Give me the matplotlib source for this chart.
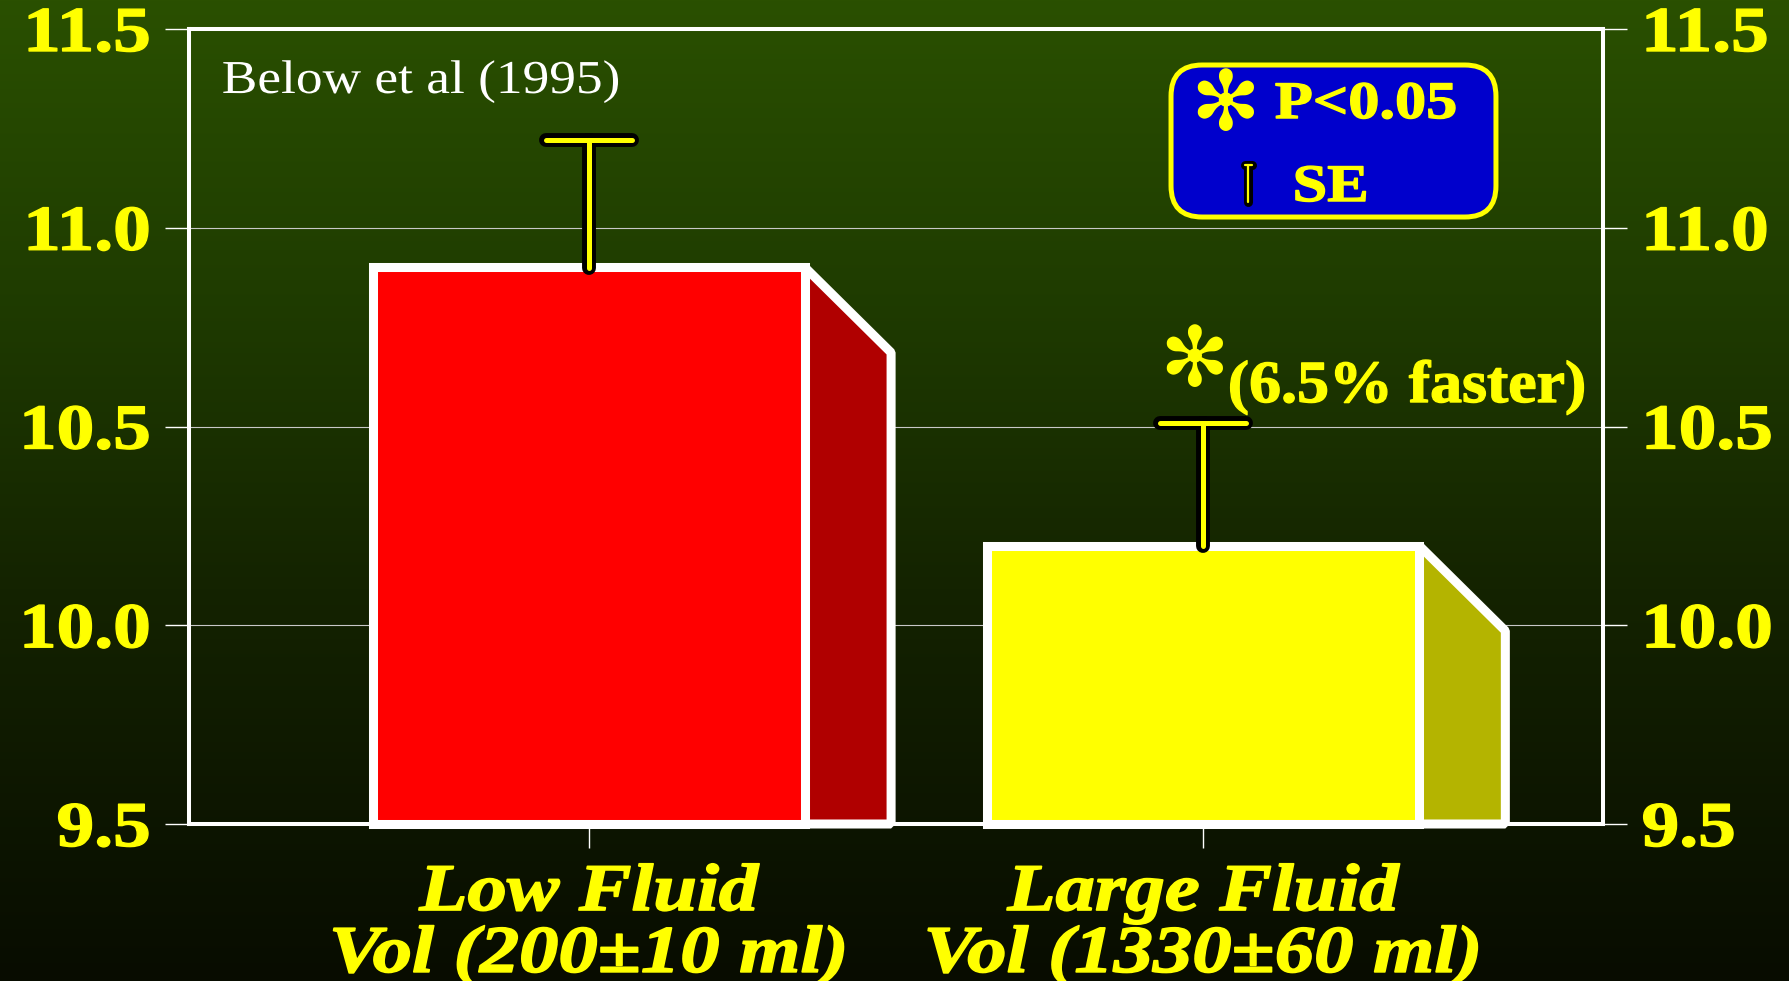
import numpy as np
import matplotlib
matplotlib.use("Agg")
import matplotlib.pyplot as plt
from matplotlib import patheffects
from matplotlib.patches import Polygon, FancyBboxPatch
from matplotlib.transforms import Affine2D, blended_transform_factory

# ---- data ----
groups = ["Low Fluid\nVol (200\u00b110 ml)", "Large Fluid\nVol (1330\u00b160 ml)"]
times = [10.9, 10.2]
se = [0.32, 0.31]
face_colors = ["#ff0000", "#ffff00"]
side_colors = ["#b00000", "#b4b400"]
yticks = [9.5, 10.0, 10.5, 11.0, 11.5]
ytick_labels = ["9.5", "10.0", "10.5", "11.0", "11.5"]
source_note = "Below et al (1995)"
sig_note = "(6.5% faster)"
legend_p = "P<0.05"
legend_se = "SE"
star = "\u273b"

YEL = "#ffff00"
SX = 1.18  # horizontal stretch of the lettering


class HStretch(patheffects.AbstractPathEffect):
    """Draw text widened horizontally about one of its edges or its centre,
    optionally thickened by a thin outline in the fill colour."""

    def __init__(self, sx=SX, anchor="center", lw=0.0):
        super().__init__()
        self.sx = sx
        self.anchor = anchor
        self.lw = lw

    def draw_path(self, renderer, gc, tpath, affine, rgbFace=None):
        ext = tpath.get_extents(affine)
        cx = {"left": ext.x0, "center": 0.5 * (ext.x0 + ext.x1), "right": ext.x1}[self.anchor]
        t = affine + Affine2D().translate(-cx, 0).scale(self.sx, 1.0).translate(cx, 0)
        if self.lw > 0 and rgbFace is not None:
            gc0 = renderer.new_gc()
            gc0.copy_properties(gc)
            gc0.set_linewidth(self.lw)
            gc0.set_foreground(rgbFace)
            gc0.set_joinstyle("round")
            renderer.draw_path(gc0, tpath, t, rgbFace)
            gc0.restore()
        else:
            renderer.draw_path(gc, tpath, t, rgbFace)


plt.rcParams["font.family"] = ["Liberation Serif", "DejaVu Sans"]

W, H = 1790, 981
fig = plt.figure(figsize=(W / 100, H / 100), dpi=100)

# background gradient: dark green at the top fading to near black
bg = fig.add_axes([0, 0, 1, 1], zorder=-5)
stops_y = np.array([0.0, 0.3, 0.6, 1.0])
stops_c = np.array([[42, 80, 0], [31, 60, 0], [20, 35, 0], [8, 12, 0]]) / 255.0
yy = np.linspace(0, 1, 600)
grad = np.stack([np.interp(yy, stops_y, stops_c[:, k]) for k in range(3)], axis=-1)
bg.imshow(grad[:, None, :], aspect="auto", extent=[0, 1, 0, 1], origin="upper")
bg.set_axis_off()

ax = fig.add_axes([189 / W, 1 - 824 / H, 1414 / W, 795 / H])
ax.set_facecolor("none")
ax.set_xlim(-0.651, 1.651)
ax.set_ylim(9.5, 11.5)

for s in ax.spines.values():
    s.set_color("white")
    s.set_linewidth(2.9)
    s.set_zorder(6)

ax.set_yticks(yticks, ytick_labels)
ax.tick_params(axis="y", which="major", left=True, right=True, labelleft=True,
               labelright=True, length=17, width=1.0, color="white", pad=11,
               labelsize=46, labelcolor=YEL)
for tk in ax.yaxis.get_major_ticks():
    tk.label1.set_fontweight("bold")
    tk.label2.set_fontweight("bold")
    tk.label1.set_path_effects([HStretch(anchor="right", lw=1.0)])
    tk.label2.set_path_effects([HStretch(anchor="left", lw=1.0)])

x = np.arange(len(groups))
ax.set_xticks(x, ["" for _ in groups])
ax.tick_params(axis="x", length=17, width=1.0, color="white")

# interior grid lines
for g in yticks[1:-1]:
    ax.axhline(g, color="#c8c8c8", lw=0.8, zorder=1)

# bars with a slanted side face
bar_w = 0.704
depth = 0.14
drop = 0.214
bars = ax.bar(x, np.array(times) - 9.5, bottom=9.5, width=bar_w, color=face_colors,
              edgecolor="white", linewidth=6.5, zorder=3, clip_on=False)
for b in bars:
    b.set_joinstyle("miter")
for xi, v, sc in zip(x, times, side_colors):
    xr = xi + bar_w / 2
    side = Polygon([(xr, 9.5), (xr, v), (xr + depth, v - drop), (xr + depth, 9.5)],
                   closed=True, facecolor=sc, edgecolor="white", linewidth=6.5,
                   joinstyle="bevel", zorder=2.9, clip_on=False)
    ax.add_patch(side)

# upper standard-error bars
outline = [patheffects.Stroke(linewidth=10, foreground="black", capstyle="round"),
           patheffects.Normal()]
cap_hw = 0.07
for xi, v, e in zip(x, times, se):
    ax.plot([xi, xi, np.nan, xi - cap_hw, xi + cap_hw], [v, v + e, np.nan, v + e, v + e],
            color=YEL, lw=3.6, solid_capstyle="round", zorder=5, path_effects=outline,
            clip_on=False)

# category labels (two lines each)
tr = blended_transform_factory(ax.transData, ax.transAxes)
for xi, lab in zip(x, groups):
    l1, l2 = lab.split("\n")
    for txt, yv in ((l1, -0.1082), (l2, -0.1860)):
        ax.text(xi, yv, txt, transform=tr, ha="center", va="baseline", fontsize=48,
                fontweight="bold", fontstyle="italic", color=YEL,
                path_effects=[HStretch(anchor="center", lw=1.2)])

# source note
ax.text(0.0233, 0.9195, source_note, transform=ax.transAxes, ha="left", va="baseline",
        fontsize=34, color="white", path_effects=[HStretch(sx=1.13, anchor="left")])

# significance note
ax.text(0.7107, 0.5800, star, transform=ax.transAxes, ha="center", va="center",
        fontsize=60, family="DejaVu Sans", color=YEL)
ax.text(0.7348, 0.5308, sig_note, transform=ax.transAxes, ha="left", va="baseline",
        fontsize=43, fontweight="bold", color=YEL,
        path_effects=[HStretch(sx=1.07, anchor="left", lw=1.0)])

# key box
box = FancyBboxPatch((0.6945, 0.7635), 0.9243 - 0.6945, 0.9547 - 0.7635,
                     boxstyle="round,pad=0,rounding_size=0.022", mutation_aspect=1414 / 795,
                     transform=ax.transAxes, facecolor="#0000cc", edgecolor=YEL,
                     linewidth=3.6, zorder=7)
ax.add_patch(box)
ax.text(0.7330, 0.9031, star, transform=ax.transAxes, ha="center", va="center",
        fontsize=60, family="DejaVu Sans", color=YEL, zorder=8)
ax.text(0.768, 0.888, legend_p, transform=ax.transAxes, ha="left", va="baseline",
        fontsize=38, fontweight="bold", color=YEL, zorder=8,
        path_effects=[HStretch(anchor="left", lw=1.0)])
ax.plot([0.7490, 0.7490, np.nan, 0.7465, 0.7515], [0.7830, 0.8285, np.nan, 0.8285, 0.8285],
        transform=ax.transAxes, color=YEL, lw=1.6, solid_capstyle="round", zorder=8,
        path_effects=[patheffects.Stroke(linewidth=6.5, foreground="black", capstyle="round"),
                      patheffects.Normal()])
ax.text(0.7808, 0.7836, legend_se, transform=ax.transAxes, ha="left", va="baseline",
        fontsize=38, fontweight="bold", color=YEL, zorder=8,
        path_effects=[HStretch(anchor="left", lw=1.0)])

fig.savefig("out.png", dpi=100)
